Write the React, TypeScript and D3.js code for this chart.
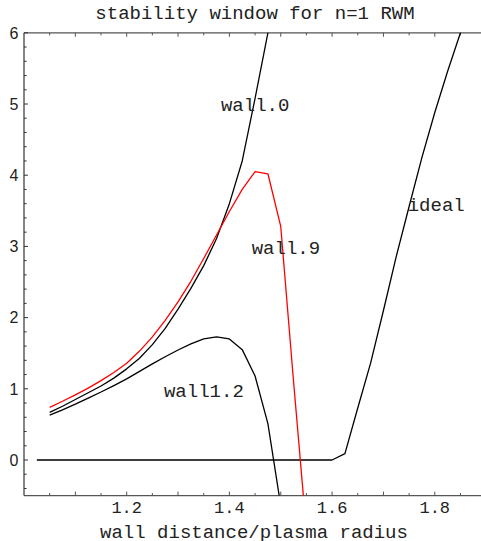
import React from "react";
import * as d3 from "d3";

const W = 481;
const H = 541;

// wall distance grid for the wall curves
const xWall = [1.05, 1.075, 1.1, 1.125, 1.15, 1.175, 1.2, 1.225, 1.25, 1.275, 1.3, 1.325, 1.35, 1.375, 1.4, 1.425, 1.45, 1.475, 1.5, 1.525, 1.55];
const wall0 = [0.67, 0.755, 0.85, 0.945, 1.04, 1.15, 1.28, 1.43, 1.62, 1.85, 2.12, 2.41, 2.73, 3.11, 3.6, 4.2, 5.08, 6.0, 6.9];
const wall9 = [0.74, 0.825, 0.915, 1.01, 1.115, 1.23, 1.36, 1.53, 1.73, 1.96, 2.22, 2.51, 2.83, 3.16, 3.49, 3.8, 4.05, 4.02, 3.28, 1.1, -1.0];
const wall12 = [0.63, 0.705, 0.785, 0.87, 0.955, 1.045, 1.14, 1.245, 1.35, 1.45, 1.545, 1.63, 1.7, 1.73, 1.7, 1.55, 1.18, 0.51, -0.64];

const xIdeal = [1.025, 1.6, 1.625, 1.65, 1.675, 1.7, 1.725, 1.75, 1.775, 1.8, 1.825, 1.85, 1.875];
const ideal = [0, 0, 0.09, 0.73, 1.36, 2.1, 2.86, 3.56, 4.25, 4.88, 5.46, 6.0, 6.5];

const xTickLabels = [1.2, 1.4, 1.6, 1.8];
const yTickLabels = [0, 1, 2, 3, 4, 5, 6];

const labels = [
  { text: "wall.0", x: 1.3836, y: 4.9 },
  { text: "wall.9", x: 1.4434, y: 2.9 },
  { text: "wall1.2", x: 1.2726, y: 0.89 },
  { text: "ideal", x: 1.7472, y: 3.5 },
];

const MONO = "'Courier New', 'Nimbus Mono PS', FreeMono, Courier, 'Liberation Mono', monospace";
const SANS = "'Liberation Sans', Arial, sans-serif";

export default function App() {
  const x = d3.scaleLinear().domain([1.0, 1.89]).range([24, 481]);
  const y = d3.scaleLinear().domain([-0.5, 6]).range([495.6, 32.8]);

  const line = d3
    .line<[number, number]>()
    .x((d) => x(d[0]))
    .y((d) => y(d[1]));

  const pts = (xs: number[], ys: number[]) => ys.map((v, i) => [xs[i], v] as [number, number]);

  const minorX = d3.range(21).map((i) => 1.0 + i * 0.05).filter((v) => v > 1.001 && v < 1.9);
  const minorY = d3.range(33).map((i) => -0.4 + i * 0.2).filter((v) => v < 6.01);
  const axisColor = "#555";
  const x0 = x(1.0);
  const yBot = y(-0.5);
  const yTop = y(6);

  return (
    <svg width={W} height={H} style={{ position: "absolute", left: 0, top: 0, background: "#fff" }}>
      <defs>
        <clipPath id="plot">
          <rect x={x0} y={yTop} width={W - x0} height={yBot - yTop} />
        </clipPath>
      </defs>
      <rect x={0} y={0} width={W} height={H} fill="#fff" />

      <text x={255} y={19} textAnchor="middle" fontFamily={MONO} fontSize={19} fill="#222">
        stability window for n=1 RWM
      </text>

      {/* axes */}
      <line x1={x0} x2={W} y1={yBot} y2={yBot} stroke={axisColor} strokeWidth={1.2} />
      <line x1={x0} x2={W} y1={yTop} y2={yTop} stroke={axisColor} strokeWidth={1.2} />
      <line x1={x0} x2={x0} y1={yTop} y2={yBot} stroke="#333" strokeWidth={1.2} />

      {minorX.map((v, i) => {
        const major = Math.abs(v * 10 - Math.round(v * 10)) < 1e-6;
        const len = major ? 4 : 2.6;
        return (
          <g key={"xt" + i}>
            <line x1={x(v)} x2={x(v)} y1={yBot} y2={yBot - len} stroke={axisColor} strokeWidth={1} />
            <line x1={x(v)} x2={x(v)} y1={yTop} y2={yTop + len} stroke={axisColor} strokeWidth={1} />
          </g>
        );
      })}
      {minorY.map((v, i) => {
        const major = Math.abs(v - Math.round(v)) < 1e-6;
        const len = major ? 4 : 2.6;
        return <line key={"yt" + i} x1={x0} x2={x0 + len} y1={y(v)} y2={y(v)} stroke="#333" strokeWidth={1} />;
      })}

      {xTickLabels.map((v) => (
        <text key={"xl" + v} x={x(v)} y={513} textAnchor="middle" fontFamily={MONO} fontSize={17} fill="#222">
          {v.toFixed(1)}
        </text>
      ))}
      {yTickLabels.map((v) => (
        <text key={"yl" + v} x={18.5} y={y(v) + 5.8} textAnchor="end" fontFamily={SANS} fontSize={16} fill="#222">
          {v}
        </text>
      ))}

      <text x={254} y={538} textAnchor="middle" fontFamily={MONO} fontSize={19} fill="#222">
        wall distance/plasma radius
      </text>

      <g clipPath="url(#plot)" fill="none" strokeWidth={1.3} strokeLinejoin="round">
        <path d={line(pts(xIdeal, ideal)) || ""} stroke="#000" />
        <path d={line(pts(xWall, wall12)) || ""} stroke="#000" />
        <path d={line(pts(xWall, wall0)) || ""} stroke="#000" />
        <path d={line(pts(xWall, wall9)) || ""} stroke="#f00" />
      </g>

      {labels.map((l) => (
        <text key={l.text} x={x(l.x)} y={y(l.y)} fontFamily={MONO} fontSize={19} fill="#222">
          {l.text}
        </text>
      ))}
    </svg>
  );
}
